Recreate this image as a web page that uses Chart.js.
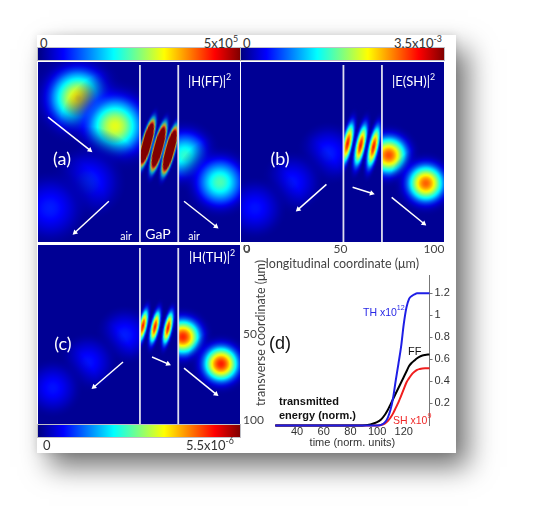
<!DOCTYPE html>
<html><head><meta charset="utf-8">
<script src="https://cdn.jsdelivr.net/npm/chart.js@4.4.1/dist/chart.umd.min.js"></script>
<style>
html,body{margin:0;padding:0;background:#fff;width:538px;height:520px;overflow:hidden;position:relative;}
#card{position:absolute;left:37px;top:35px;width:419px;height:418px;background:#fff;
  box-shadow:12px 14px 26px rgba(0,0,0,0.55),0 0 8px rgba(0,0,0,0.10);}
.box{position:absolute;}
.box canvas{display:block;}
.cb{position:absolute;height:12px;box-shadow:0 0 0 1px rgba(150,150,160,0.6);
  background:linear-gradient(to right,#000080 0%,#0000ff 12.5%,#00ffff 37.5%,#ffff00 62.5%,#ff0000 87.5%,#800000 100%);}
.t{position:absolute;white-space:nowrap;line-height:1;}
.cal{font-family:Lato,"Open Sans",sans-serif;}
.ari{font-family:"Liberation Sans",Arial,sans-serif;}
sup{font-size:68%;vertical-align:top;position:relative;top:-0.25em;line-height:1;}
</style></head>
<body>
<div id="card"></div>
<div class="cb" style="left:38px;top:48px;width:202px"></div>
<div class="cb" style="left:241px;top:48px;width:203px"></div>
<div class="cb" style="left:38px;top:425px;width:202px"></div>
<div class="box" style="left:38px;top:62px"><canvas id="ca" width="202" height="180"></canvas></div>
<div class="box" style="left:241px;top:62px"><canvas id="cbb" width="203" height="212"></canvas></div>
<div class="box" style="left:38px;top:245px"><canvas id="cc" width="234" height="179"></canvas></div>
<div class="box" style="left:262px;top:268px"><canvas id="cd" width="200" height="190"></canvas></div>
<div id="labels"></div>
<script>
// ---------------- data ----------------
const xRange = [-3.2, 105.4];
const yRangeTop = [-1.7, 102.6];
const yRangeBottom = [-1.7, 102.3];
const slabEdges = [51.6, 72.2];
const coordTicks = [0, 50, 100];

// (a) |H(FF)|^2  (normalised to colour-bar maximum 5x10^5)
const ffBlobX = [18.3, 38.2, 23.7, 3.2, 75.8, 94.6];
const ffBlobY = [19.2, 35.5, 68.0, 83.0, 52.3, 68.0];
const ffBlobPeak = [0.64, 0.6, 0.16, 0.15, 0.42, 0.45];
const ffBlobWidth = [9.8, 9.8, 10, 10, 8, 8];
const ffStripeX = [55.4, 61.6, 67.7];
const ffStripeY = [45.3, 47.7, 49.4];
const ffStripePeak = [3.0, 3.0, 3.0];
const ffArrows = [[2.2, 30.2, 24.7, 49.4], [34.9, 79.0, 16.7, 97.1], [75.3, 79.0, 92.5, 93.6]];

// (b) |E(SH)|^2  (max 3.5x10^-3)
const shBlobX = [43.5, 24.2, 4.3, 75.8, 95.7];
const shBlobY = [51.2, 68.0, 83.0, 52.3, 68.6];
const shBlobPeak = [0.15, 0.14, 0.14, 0.8, 0.78];
const shBlobWidth = [8.5, 8.5, 8.5, 6.5, 6.5];
const shStripeX = [53.8, 60.8, 67.7];
const shStripeY = [45.5, 46.5, 47.5];
const shStripePeak = [0.85, 0.85, 0.85];
const shArrows = [[42.5, 69.2, 27.4, 83.7], [56.5, 70.9, 66.7, 74.4], [77.4, 76.7, 94.6, 91.9]];

// (c) |H(TH)|^2  (max 5.5x10^-6)
const thBlobX = [43.5, 23.7, 4.8, 74.7, 95.2];
const thBlobY = [50.6, 66.3, 81.4, 51.7, 67.4];
const thBlobPeak = [0.15, 0.14, 0.14, 0.84, 0.85];
const thBlobWidth = [8, 8, 8, 6.2, 6.2];
const thStripeX = [53.2, 59.7, 66.7];
const thStripeY = [45.3, 45.9, 46.5];
const thStripePeak = [0.85, 0.85, 0.85];
const thArrows = [[42.5, 66.3, 26.9, 80.8], [58.1, 63.4, 66.7, 67.4], [75.3, 69.8, 92.5, 84.9]];

// (d) transmitted energy vs time
const times = [23.7, 89, 95, 100, 103, 106, 108, 110, 112, 114, 116, 118, 120, 122, 124, 126, 128, 130, 132, 134, 136, 139.3];
const thEnergy = [0, 0, 0, 0, 0.005, 0.03, 0.07, 0.14, 0.25, 0.41, 0.56, 0.715, 0.92, 1.07, 1.15, 1.175, 1.19, 1.2, 1.2, 1.2, 1.2, 1.2];
const ffEnergy = [0, 0, 0.01, 0.03, 0.055, 0.1, 0.14, 0.19, 0.24, 0.29, 0.34, 0.39, 0.44, 0.49, 0.54, 0.57, 0.59, 0.61, 0.625, 0.635, 0.64, 0.645];
const shEnergy = [0, 0, 0, 0, 0.005, 0.02, 0.04, 0.07, 0.11, 0.16, 0.21, 0.27, 0.33, 0.39, 0.43, 0.465, 0.488, 0.505, 0.513, 0.518, 0.52, 0.52];
const timeTicks = [40, 60, 80, 100, 120];
const energyTicks = [0.2, 0.4, 0.6, 0.8, 1, 1.2];

// ---------------- text labels ----------------
const labels = [
  ['0', 40, 43, 'cal', 'l', 'font-size:13px;color:#333'],
  ['5x10<sup>5</sup>', 238, 43, 'cal', 'r', 'font-size:13px;color:#333'],
  ['0', 243, 43, 'cal', 'l', 'font-size:13px;color:#333'],
  ['3.5x10<sup>-3</sup>', 442, 43, 'cal', 'r', 'font-size:13px;color:#333'],
  ['0', 43, 445, 'cal', 'l', 'font-size:13px;color:#333'],
  ['5.5x10<sup>-6</sup>', 234, 445, 'cal', 'r', 'font-size:13px;color:#333'],
  ['(a)', 62, 158, 'cal', 'c', 'font-size:18px;color:#fff'],
  ['|H(FF)|<sup>2</sup>', 188, 81, 'cal', 'l', 'font-size:13px;color:#fff'],
  ['air', 126, 236, 'cal', 'c', 'font-size:10.5px;color:#fff'],
  ['GaP', 158, 234, 'cal', 'c', 'font-size:14px;color:#fff'],
  ['air', 194, 236, 'cal', 'c', 'font-size:10.5px;color:#fff'],
  ['(b)', 280, 158, 'cal', 'c', 'font-size:18px;color:#fff'],
  ['|E(SH)|<sup>2</sup>', 392, 81, 'cal', 'l', 'font-size:13px;color:#fff'],
  ['(c)', 63, 343, 'cal', 'c', 'font-size:18px;color:#fff'],
  ['|H(TH)|<sup>2</sup>', 189, 257, 'cal', 'l', 'font-size:13px;color:#fff'],
  ['(d)', 280, 343, 'ari', 'c', 'font-size:18px;color:#111'],
  ['TH x10<sup>12</sup>', 363, 312, 'ari', 'l', 'font-size:10.5px;color:rgb(40,40,230)'],
  ['FF', 408, 350.5, 'ari', 'l', 'font-size:11px;color:#111'],
  ['SH x10<sup>9</sup>', 393, 419.5, 'ari', 'l', 'font-size:10.5px;color:rgb(240,40,40)'],
  ['transmitted', 279, 400.5, 'ari', 'l', 'font-size:11px;font-weight:bold;color:#111'],
  ['energy (norm.)', 279, 414.5, 'ari', 'l', 'font-size:11px;font-weight:bold;color:#111']
];
const host = document.getElementById('labels');
labels.forEach(([html, x, y, fam, anc, st]) => {
  const d = document.createElement('div');
  d.className = 't ' + fam;
  d.innerHTML = html;
  const tx = anc === 'l' ? '0' : anc === 'r' ? '-100%' : '-50%';
  d.style.cssText = `left:${x}px;top:${y}px;transform:translate(${tx},-50%);z-index:5;` + st;
  host.appendChild(d);
});
const rot = document.createElement('div');
rot.className = 't cal';
rot.textContent = 'transverse coordinate (μm)';
rot.style.cssText = 'left:261px;top:333px;transform:translate(-50%,-50%) rotate(-90deg);font-size:12.5px;color:#444;z-index:5';
host.appendChild(rot);

// ---------------- rendering helpers ----------------
const BG = 0.02;
function jet(t){
  t = Math.max(0, Math.min(1, t));
  const c = v => Math.round(255 * Math.max(0, Math.min(1, v)));
  return [c(1.5 - Math.abs(4*t - 3)), c(1.5 - Math.abs(4*t - 2)), c(1.5 - Math.abs(4*t - 1))];
}
const bgRGB = jet(BG);
const bgColor = `rgb(${bgRGB[0]},${bgRGB[1]},${bgRGB[2]})`;
function addStops(g, peak){
  const N = 28;
  for (let i = 0; i <= N; i++){
    const f = i / N;
    const val = Math.max(BG, peak * Math.exp(-4.5 * f * f));
    const [r, gg, b] = jet(val);
    const a = f <= 0.45 ? 1 : Math.max(0, 1 - (f - 0.45) / 0.55);
    g.addColorStop(f, `rgba(${r},${gg},${b},${a.toFixed(3)})`);
  }
}
const ok = v => Number.isFinite(v);
function blobRadius(ctx){
  const d = ctx.raw; if (!d || !ctx.chart.scales || !ctx.chart.scales.x) return 1;
  const xs = ctx.chart.scales.x;
  const r = Math.abs(xs.getPixelForValue(d.x + 3 * d.s) - xs.getPixelForValue(d.x));
  return ok(r) && r > 0 ? r : 1;
}
function blobFill(ctx){
  const d = ctx.raw; if (!d) return 'rgba(0,0,0,0)';
  const ch = ctx.chart, xs = ch.scales && ch.scales.x, ys = ch.scales && ch.scales.y;
  if (!xs || !ys) return 'rgba(0,0,0,0)';
  const cx = xs.getPixelForValue(d.x), cy = ys.getPixelForValue(d.y);
  const R = blobRadius(ctx);
  if (!ok(cx) || !ok(cy) || !ok(R)) return 'rgba(0,0,0,0)';
  const g = ch.ctx.createRadialGradient(cx, cy, 0, cx, cy, R);
  addStops(g, d.v);
  return g;
}
function stripeImage(ctx){
  const d = ctx.raw; if (!d) return 'circle';
  const xs = ctx.chart.scales && ctx.chart.scales.x, ys = ctx.chart.scales && ctx.chart.scales.y;
  if (!xs || !ys) return 'circle';
  const a = Math.abs(xs.getPixelForValue(d.x + d.w) - xs.getPixelForValue(d.x));
  const b = Math.abs(ys.getPixelForValue(d.y + d.h) - ys.getPixelForValue(d.y));
  if (!ok(a) || !ok(b) || a < 0.5 || b < 0.5) return 'circle';
  const W = Math.ceil(2*a) + 2, H = Math.ceil(2*b) + 2;
  const c = document.createElement('canvas'); c.width = W; c.height = H;
  const g = c.getContext('2d');
  g.translate(W/2, H/2); g.scale(1, b/a);
  const gr = g.createRadialGradient(0, 0, 0, 0, 0, a);
  addStops(gr, d.v);
  g.fillStyle = gr; g.beginPath(); g.arc(0, 0, a, 0, Math.PI*2); g.fill();
  return c;
}
function arrowRotation(ctx){
  if (ctx.dataIndex !== 1) return 0;
  const xs = ctx.chart.scales && ctx.chart.scales.x, ys = ctx.chart.scales && ctx.chart.scales.y;
  if (!xs || !ys) return 0;
  const data = ctx.dataset.data;
  const dx = xs.getPixelForValue(data[1].x) - xs.getPixelForValue(data[0].x);
  const dy = ys.getPixelForValue(data[1].y) - ys.getPixelForValue(data[0].y);
  const r = Math.atan2(dx, -dy) * 180 / Math.PI;
  return ok(r) ? r : 0;
}

const regionClip = {
  id: 'regionClip',
  beforeDatasetDraw(chart, args){
    const ds = chart.data.datasets[args.index];
    if (!ds.region) return;
    const {ctx, chartArea: a} = chart, xs = chart.scales.x;
    const l = ds.region[0] == null ? a.left : xs.getPixelForValue(ds.region[0]);
    const r = ds.region[1] == null ? a.right : xs.getPixelForValue(ds.region[1]);
    ctx.save(); ctx.beginPath(); ctx.rect(l, a.top, r - l, a.bottom - a.top); ctx.clip();
  },
  afterDatasetDraw(chart, args){
    if (chart.data.datasets[args.index].region) chart.ctx.restore();
  }
};
const heatFrame = {
  id: 'heatFrame',
  beforeDatasetsDraw(chart){
    const {ctx, chartArea: a} = chart;
    ctx.save(); ctx.fillStyle = bgColor; ctx.fillRect(a.left, a.top, a.right - a.left, a.bottom - a.top); ctx.restore();
  },
  afterDatasetsDraw(chart){
    const {ctx, chartArea: a} = chart, xs = chart.scales.x;
    ctx.save(); ctx.strokeStyle = 'rgba(232,232,242,0.95)'; ctx.lineWidth = 1.8;
    slabEdges.forEach(e => {
      const px = xs.getPixelForValue(e);
      ctx.beginPath(); ctx.moveTo(px, a.top + 3); ctx.lineTo(px, a.bottom); ctx.stroke();
    });
    ctx.restore();
  }
};

function heatChart(id, p, yRange, xAxis, yAxis){
  const blobs = p.bx.map((x, i) => ({x, y: p.by[i], v: p.bv[i], s: p.bs[i]}));
  const leftB = blobs.filter(b => b.x < slabEdges[0]);
  const rightB = blobs.filter(b => b.x > slabEdges[1]);
  const stripes = p.sx.map((x, i) => ({x, y: p.sy[i], v: p.sv[i], w: p.sw, h: p.sh}));
  const blobStyle = {pointRadius: blobRadius, pointHoverRadius: blobRadius, pointBackgroundColor: blobFill,
    pointBorderWidth: 0, pointHoverBorderWidth: 0, showLine: false};
  const datasets = [];
  p.arrows.forEach(a => datasets.push({
    data: [{x: a[0], y: a[1]}, {x: a[2], y: a[3]}], showLine: true, borderColor: '#fff', borderWidth: 1.5,
    pointRadius: [0, 3.2], pointHoverRadius: [0, 3.2], pointStyle: 'triangle', pointBackgroundColor: '#fff',
    pointBorderWidth: 0, pointRotation: arrowRotation, order: 0
  }));
  datasets.push({data: stripes, region: slabEdges, pointStyle: stripeImage, pointRotation: p.rot,
    pointRadius: 5, pointHoverRadius: 5, pointBorderWidth: 0, showLine: false, order: 1});
  datasets.push(Object.assign({data: rightB, region: [slabEdges[1], null], order: 2}, blobStyle));
  datasets.push(Object.assign({data: leftB, region: [null, slabEdges[0]], order: 3}, blobStyle));
  const hidden = {display: false};
  return new Chart(document.getElementById(id), {
    type: 'scatter',
    data: {datasets},
    options: {
      animation: false, responsive: false, events: [],
      layout: {padding: 0, autoPadding: false},
      plugins: {legend: {display: false}, tooltip: {enabled: false}},
      scales: {
        x: Object.assign({type: 'linear', min: xRange[0], max: xRange[1]}, xAxis || hidden),
        y: Object.assign({type: 'linear', min: yRange[0], max: yRange[1], reverse: true}, yAxis || hidden)
      }
    },
    plugins: [heatFrame, regionClip]
  });
}

const calFont = {family: 'Lato, "Open Sans", sans-serif', size: 12};
const setCoordTicks = s => { s.ticks = coordTicks.map(v => ({value: v})); };

try {
heatChart('ca', {bx: ffBlobX, by: ffBlobY, bv: ffBlobPeak, bs: ffBlobWidth,
  sx: ffStripeX, sy: ffStripeY, sv: ffStripePeak, sw: 4.3, sh: 23, rot: 15, arrows: ffArrows}, yRangeTop);
} catch (e) { console.log(e); }
try {
heatChart('cbb', {bx: shBlobX, by: shBlobY, bv: shBlobPeak, bs: shBlobWidth,
  sx: shStripeX, sy: shStripeY, sv: shStripePeak, sw: 5.0, sh: 24, rot: 12, arrows: shArrows}, yRangeTop,
  {display: true, position: 'bottom', grid: {display: false, drawTicks: false}, border: {display: false},
   ticks: {font: calFont, color: '#444', padding: 0, autoSkip: false, maxRotation: 0},
   afterBuildTicks: setCoordTicks,
   afterFit: s => { s.height = 32; s.paddingLeft = 0; s.paddingRight = 0; },
   title: {display: true, text: 'longitudinal coordinate (μm)', font: {family: calFont.family, size: 12.5}, color: '#444', padding: {top: 0, bottom: 3}}});
} catch (e) { console.log(e); }
try {
heatChart('cc', {bx: thBlobX, by: thBlobY, bv: thBlobPeak, bs: thBlobWidth,
  sx: thStripeX, sy: thStripeY, sv: thStripePeak, sw: 4.2, sh: 19, rot: 12, arrows: thArrows}, yRangeBottom,
  null,
  {display: true, position: 'right', grid: {display: false, drawTicks: false}, border: {display: false},
   ticks: {font: calFont, color: '#444', padding: 3, autoSkip: false},
   afterBuildTicks: setCoordTicks,
   afterFit: s => { s.width = 32; s.paddingTop = 0; s.paddingBottom = 0; }});
} catch (e) { console.log(e); }

// (d) line chart
const ariFont = {family: '"Liberation Sans", Arial, sans-serif', size: 11};
const pts = arr => times.map((t, i) => ({x: t, y: arr[i]}));
new Chart(document.getElementById('cd'), {
  type: 'line',
  data: {datasets: [
    {label: 'TH x10^12', data: pts(thEnergy), borderColor: 'rgb(30,30,230)', borderWidth: 2, pointRadius: 0, cubicInterpolationMode: 'monotone', clip: 4},
    {label: 'FF', data: pts(ffEnergy), borderColor: '#000', borderWidth: 2, pointRadius: 0, cubicInterpolationMode: 'monotone', clip: 4},
    {label: 'SH x10^9', data: pts(shEnergy), borderColor: 'rgb(240,30,30)', borderWidth: 2, pointRadius: 0, cubicInterpolationMode: 'monotone', clip: 4}
  ]},
  options: {
    animation: false, responsive: false, events: [],
    layout: {padding: {left: 13.3, top: 7, right: 0, bottom: 0}, autoPadding: false},
    plugins: {legend: {display: false}, tooltip: {enabled: false}},
    scales: {
      x: {type: 'linear', min: times[0], max: times[times.length - 1],
        grid: {display: false, drawTicks: false}, border: {display: false},
        ticks: {font: ariFont, color: '#333', padding: 0, autoSkip: false, maxRotation: 0},
        afterBuildTicks: s => { s.ticks = timeTicks.map(v => ({value: v})); },
        afterFit: s => { s.height = 32.5; s.paddingLeft = 0; s.paddingRight = 0; },
        title: {display: true, text: 'time (norm. units)', font: ariFont, color: '#333', padding: {top: 0, bottom: 8}}},
      y: {type: 'linear', position: 'right', min: 0, max: 1.366,
        grid: {drawOnChartArea: false, drawTicks: true, tickLength: 3, color: '#777'},
        border: {display: true, color: '#777', width: 1},
        ticks: {font: ariFont, color: '#333', padding: 2, autoSkip: false, callback: v => String(v)},
        afterBuildTicks: s => { s.ticks = energyTicks.map(v => ({value: v})); },
        afterFit: s => { s.width = 32.5; s.paddingTop = 0; s.paddingBottom = 0; }}
    }
  }
});
</script>
</body></html>
